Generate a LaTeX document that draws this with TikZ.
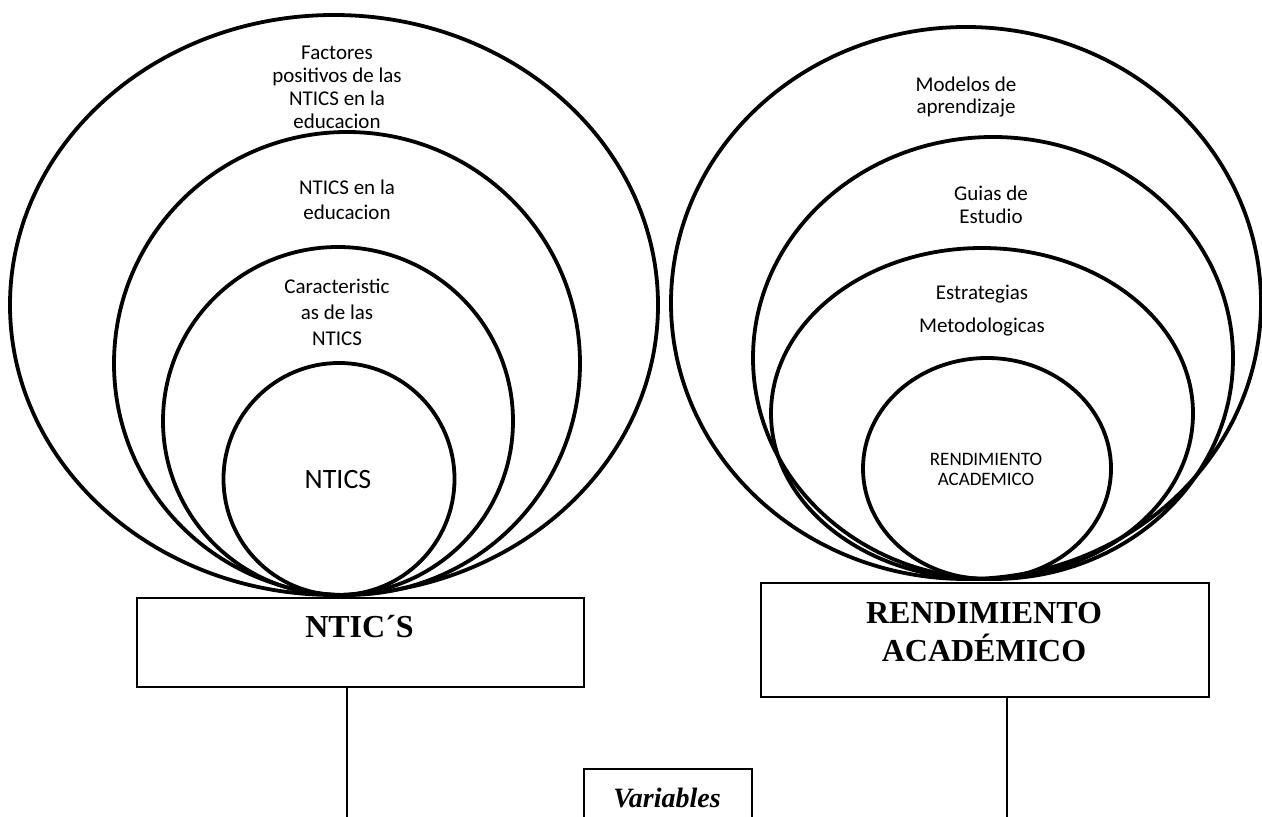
\documentclass[tikz,border=0pt]{standalone}
\usepackage{fontspec}
\setmainfont{Liberation Serif}
\newfontfamily\calfont{Carlito}
\usetikzlibrary{calc}

\tikzset{
	ring/.style={line width=1.9pt},
	lbl/.style={font=\calfont\fontsize{10.5}{11.5}\selectfont, align=center, inner sep=0pt},
	varbox/.style={draw, line width=1pt, inner sep=0pt},
	boxlbl/.style={font=\bfseries\fontsize{16}{19}\selectfont, inner sep=0pt, anchor=base},
	link/.style={line width=0.8pt}
}

\begin{document}
\begin{tikzpicture}[x=0.5pt,y=-0.5pt]
	\useasboundingbox (0,0) rectangle (1262,817);
	\clip (0,0) rectangle (1262,817);

	% left rings
	\draw[ring] (334,305) ellipse (324 and 290);
	\draw[ring] (347,363.5) ellipse (233 and 231.5);
	\draw[ring] (338,421) ellipse (175 and 174);
	\draw[ring] (339,479) ellipse (115.5 and 116);

	\node[lbl] (factores) at (337,87) {Factores\\positivos de las\\NTICS en la\\educacion};
	\node[lbl, font=\calfont\fontsize{10.5}{12.5}\selectfont] (ntedu) at (347,200) {NTICS en la\\educacion};
	\node[lbl, font=\calfont\fontsize{10.5}{13}\selectfont] (caract) at (337,312) {Caracteristic\\as de las\\NTICS};
	\node[lbl, font=\calfont\fontsize{14}{16}\selectfont] (ntics) at (338,480) {NTICS};

	% right rings
	\draw[ring] (966,303) ellipse (295 and 276);
	\draw[ring] (993,358) ellipse (240 and 221);
	\draw[ring] (982,413.5) ellipse (211 and 165.5);
	\draw[ring] (987,468.5) ellipse (124 and 110.5);

	\node[lbl, font=\calfont\fontsize{10.5}{11}\selectfont] (modelos) at (966,97) {Modelos de\\aprendizaje};
	\node[lbl] (guias) at (991,205) {Guias de\\Estudio};
	\node[lbl, font=\calfont\fontsize{10.5}{16.5}\selectfont] (estrat) at (982,311) {Estrategias\\Metodologicas};
	\node[lbl, font=\calfont\fontsize{9.5}{10}\selectfont] (rendin) at (986,469) {RENDIMIENTO\\ACADEMICO};

	% boxes
	\node[varbox, minimum width=223.5pt, minimum height=44.5pt, anchor=north west] (ntbox) at (136,597) {};
	\node[boxlbl] (ntlbl) at (359.5,637) {NTIC´S};

	\node[varbox, minimum width=224pt, minimum height=57pt, anchor=north west] (rabox) at (760,582) {};
	\node[boxlbl, align=center, anchor=north] (ralbl) at (984,602) {RENDIMIENTO\\ACADÉMICO};

	\node[varbox, minimum width=84pt, minimum height=40pt, anchor=north west] (vbox) at (583,768) {};
	\node[boxlbl, font=\bfseries\itshape\fontsize{14}{16}\selectfont] (vlbl) at (667,807) {Variables};

	\coordinate (ntend) at (347,817);
	\coordinate (raend) at (1007,817);
	\draw[link] (ntbox.south -| ntend) -- (ntend);
	\draw[link] (rabox.south -| raend) -- (raend);
\end{tikzpicture}
\end{document}
